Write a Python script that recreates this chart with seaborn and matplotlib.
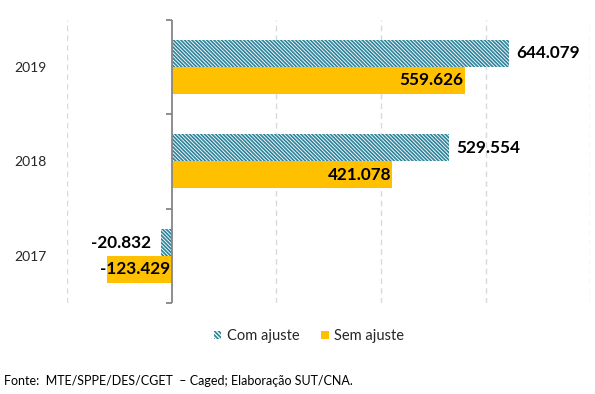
import pandas as pd
import seaborn as sns
import matplotlib.pyplot as plt
import matplotlib.patches as mpatches

# saldo de empregos (mil)
anos = ["2019", "2018", "2017"]
com_ajuste = [644.079, 529.554, -20.832]
sem_ajuste = [559.626, 421.078, -123.429]
series = ["Com ajuste", "Sem ajuste"]
fonte = "Fonte:  MTE/SPPE/DES/CGET  \u2013 Caged; Elaboração SUT/CNA."

TEAL = "#31859C"
GOLD = "#FFC000"
HATCH = "\\" * 9

df = pd.DataFrame({
    "ano": anos * 2,
    "serie": [series[0]] * len(anos) + [series[1]] * len(anos),
    "valor": com_ajuste + sem_ajuste,
})

sns.set_style("white")
plt.rcParams["font.family"] = ["Lato", "DejaVu Sans"]
plt.rcParams["hatch.linewidth"] = 1.25

fig = plt.figure(figsize=(5.95, 3.94), dpi=100)
ax = fig.add_axes([0.1131, 0.2302, 0.879, 0.7203])

sns.barplot(data=df, x="valor", y="ano", hue="serie", order=anos,
            hue_order=series, orient="h", width=0.57, gap=0,
            palette=["white", GOLD], saturation=1, legend=False, ax=ax)

# hatch the "com ajuste" bars
for p in ax.containers[0]:
    p.set_hatch(HATCH)
    p.set_edgecolor(TEAL)
    p.set_linewidth(0)
for p in ax.containers[1]:
    p.set_linewidth(0)

ax.set_xlim(-200, 800)
ax.set_ylim(2.5, -0.5)
ax.set_xticks([-200, 200, 400, 600, 800])
ax.set_xticklabels([])
ax.tick_params(axis="x", length=0)
ax.grid(axis="x", color="#D9D9D9", linestyle=(0, (4, 3)), linewidth=1)
ax.set_axisbelow(True)
for s in ax.spines.values():
    s.set_visible(False)

# eixo vertical no zero com marcas entre categorias
ax.axvline(0, color="#868686", linewidth=1.3, zorder=3)
ax.hlines([-0.5, 0.5, 1.5, 2.5], -11.5, 0, color="#868686", linewidth=1.3,
          zorder=3, clip_on=False)

ax.tick_params(axis="y", length=0, pad=15, labelsize=10, labelcolor="#262626")
ax.set_xlabel("")
ax.set_ylabel("")

# rótulos de dados
for i, (a, b) in enumerate(zip(com_ajuste, sem_ajuste)):
    y1 = i - 0.1425
    y2 = i + 0.1425
    if a >= 0:
        ax.text(a + 15, y1, f"{a:.3f}", ha="left", va="center",
                fontsize=12.3, fontweight="bold", color="black")
    else:
        ax.text(a - 19, y1, f"{a:.3f}", ha="right", va="center",
                fontsize=12.3, fontweight="bold", color="black")
    if b >= 0:
        ax.text(b - 2, y2, f"{b:.3f}", ha="right", va="center",
                fontsize=12.3, fontweight="bold", color="black")
    else:
        ax.text(-4, y2, f"{b:.3f}", ha="right", va="center",
                fontsize=12.3, fontweight="bold", color="black", zorder=4)

handles = [
    mpatches.Patch(facecolor="white", edgecolor=TEAL, hatch="\\" * 8, linewidth=0,
                   label=series[0]),
    mpatches.Patch(facecolor=GOLD, linewidth=0, label=series[1]),
]
fig.legend(handles=handles, loc="center", bbox_to_anchor=(309 / 595, 1 - 336 / 394),
           ncol=2, frameon=False, fontsize=10.5, handlelength=0.5,
           handleheight=0.5, handletextpad=0.4, columnspacing=1.5,
           labelcolor="#262626")

fig.text(4 / 595, 1 - 381 / 394, fonte, ha="left", va="center",
         fontsize=9, color="black")

fig.savefig("out.png", dpi=100)
